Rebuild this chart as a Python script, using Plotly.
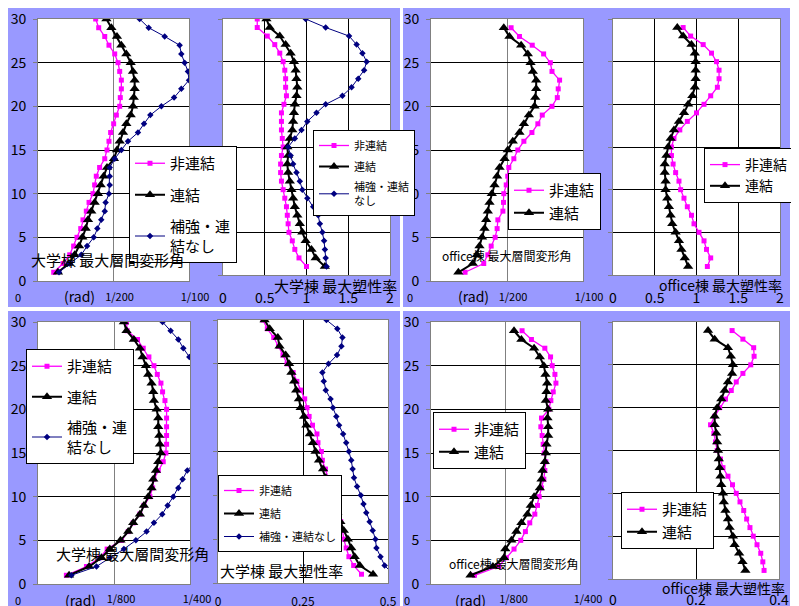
import plotly.graph_objects as go

W, H = 799, 606
OFF = 8  # page body margin: figure starts 8px right/down of the window corner

# ---------------- data ----------------
floors_univ = list(range(30, 0, -1))     # 30 ... 1
floors_office = list(range(29, 0, -1))   # 29 ... 1

# top row, drift angle (x 1/1000 rad)
u_drift_top_non = [3.82, 4.02, 4.42, 4.70, 5.08, 5.30, 5.41, 5.52, 5.52, 5.45, 5.41, 5.19, 5.01, 4.81, 4.70,
                   4.57, 4.42, 4.08, 3.86, 3.75, 3.64, 3.38, 3.20, 2.98, 2.83, 2.58, 2.36, 2.10, 1.66, 1.04]
u_drift_top_link = [4.53, 4.86, 5.23, 5.52, 5.85, 6.14, 6.29, 6.40, 6.40, 6.34, 6.29, 6.14, 5.85, 5.63, 5.41,
                    5.23, 5.03, 4.57, 4.35, 4.15, 3.97, 3.75, 3.53, 3.31, 3.16, 2.94, 2.72, 2.43, 2.05, 1.32]
u_drift_top_rein = [6.73, 7.33, 8.39, 9.38, 9.49, 9.71, 9.93, 10.0, 9.49, 9.01, 8.17, 7.44, 7.02, 6.62, 5.96,
                    5.52, 5.08, 4.75, 4.75, 4.75, 4.70, 4.48, 4.42, 4.19, 3.93, 3.69, 3.25, 2.87, 2.10, 1.39]
# top row, ductility factor
u_pl_top_non = [0.41, 0.41, 0.53, 0.62, 0.68, 0.72, 0.74, 0.75, 0.75, 0.76, 0.73, 0.70, 0.70, 0.70, 0.71,
                0.72, 0.70, 0.69, 0.69, 0.70, 0.72, 0.74, 0.76, 0.77, 0.78, 0.79, 0.83, 0.86, 0.91, 1.00]
u_pl_top_link = [0.52, 0.56, 0.68, 0.75, 0.81, 0.85, 0.87, 0.88, 0.89, 0.88, 0.86, 0.85, 0.84, 0.83, 0.80,
                 0.77, 0.78, 0.77, 0.78, 0.80, 0.82, 0.84, 0.86, 0.89, 0.92, 0.95, 0.99, 1.06, 1.11, 1.22]
u_pl_top_rein = [0.99, 1.23, 1.51, 1.60, 1.67, 1.72, 1.69, 1.62, 1.54, 1.43, 1.23, 1.12, 1.01, 0.94, 0.86,
                 0.78, 0.81, 0.84, 0.88, 0.92, 0.95, 1.01, 1.08, 1.14, 1.16, 1.19, 1.21, 1.22, 1.23, 1.24]
o_drift_top_non = [5.27, 5.82, 6.66, 7.41, 7.85, 7.96, 8.46, 8.37, 8.31, 7.96, 7.32, 7.03, 6.64, 6.11, 5.71,
                   5.45, 5.12, 5.05, 4.95, 4.79, 4.77, 4.73, 4.40, 4.35, 4.22, 3.96, 3.74, 3.47, 2.24]
o_drift_top_link = [4.79, 5.16, 5.93, 6.37, 6.55, 6.70, 6.92, 6.92, 6.86, 6.81, 6.44, 6.11, 5.82, 5.38, 5.05,
                    4.84, 4.51, 4.35, 4.18, 4.00, 3.85, 3.74, 3.63, 3.52, 3.36, 3.19, 3.01, 2.75, 1.80]
o_pl_top_non = [0.84, 0.93, 1.08, 1.18, 1.24, 1.27, 1.27, 1.25, 1.17, 1.09, 1.00, 0.89, 0.80, 0.73, 0.70,
                0.70, 0.72, 0.75, 0.79, 0.81, 0.85, 0.89, 0.94, 0.97, 1.03, 1.09, 1.12, 1.17, 1.13]
o_pl_top_link = [0.77, 0.84, 0.94, 0.98, 0.99, 0.99, 0.99, 0.98, 0.95, 0.90, 0.85, 0.79, 0.73, 0.69, 0.66,
                 0.64, 0.62, 0.62, 0.63, 0.63, 0.65, 0.67, 0.69, 0.71, 0.75, 0.79, 0.82, 0.86, 0.90]

# bottom row
u_drift_bot_non = [1.456, 1.467, 1.637, 1.731, 1.824, 1.907, 1.962, 2.022, 2.049, 2.088, 2.115, 2.115, 2.115,
                   2.115, 2.115, 2.104, 2.060, 1.978, 1.907, 1.885, 1.841, 1.742, 1.676, 1.566, 1.484, 1.374,
                   1.137, 1.016, 0.797, 0.467]
u_drift_bot_link = [1.412, 1.456, 1.577, 1.676, 1.720, 1.775, 1.813, 1.868, 1.896, 1.907, 1.951, 1.978, 1.978,
                    1.995, 2.005, 2.022, 1.978, 1.940, 1.896, 1.868, 1.813, 1.742, 1.676, 1.566, 1.484, 1.357,
                    1.181, 1.044, 0.841, 0.511]
u_drift_bot_rein = [2.049, 2.181, 2.308, 2.390, 2.489, 2.56, 2.62, 2.68, 2.73, 2.77, 2.80, 2.81, 2.80, 2.77,
                    2.72, 2.66, 2.59, 2.456, 2.379, 2.308, 2.225, 2.132, 2.044, 1.907, 1.786, 1.610, 1.412,
                    1.181, 0.962, 0.549]
u_pl_bot_non = [0.132, 0.145, 0.164, 0.178, 0.191, 0.203, 0.221, 0.232, 0.243, 0.255, 0.262, 0.268, 0.278,
                0.291, 0.294, 0.304, 0.307, 0.316, 0.324, 0.330, 0.336, 0.341, 0.350, 0.361, 0.366, 0.370,
                0.377, 0.385, 0.399, 0.422]
u_pl_bot_link = [0.137, 0.152, 0.176, 0.181, 0.199, 0.209, 0.216, 0.224, 0.230, 0.238, 0.243, 0.253, 0.260,
                 0.270, 0.279, 0.287, 0.297, 0.309, 0.317, 0.324, 0.331, 0.340, 0.351, 0.360, 0.370, 0.382,
                 0.392, 0.402, 0.417, 0.456]
u_pl_bot_rein = [0.319, 0.351, 0.366, 0.363, 0.350, 0.325, 0.307, 0.311, 0.317, 0.331, 0.338, 0.348, 0.356,
                 0.368, 0.377, 0.385, 0.392, 0.396, 0.400, 0.409, 0.420, 0.428, 0.436, 0.446, 0.455, 0.463,
                 0.466, 0.478, 0.490, 0.515]
o_drift_bot_non = [1.528, 1.685, 1.910, 2.006, 2.034, 2.079, 2.096, 2.051, 2.011, 1.978, 1.854, 1.843, 1.865,
                   1.882, 1.899, 1.927, 1.910, 1.893, 1.854, 1.815, 1.787, 1.742, 1.657, 1.584, 1.506, 1.393,
                   1.264, 1.135, 0.730]
o_drift_bot_link = [1.393, 1.517, 1.730, 1.826, 1.893, 1.921, 1.949, 1.938, 1.927, 1.966, 1.955, 1.966, 1.966,
                    1.938, 1.927, 1.910, 1.871, 1.854, 1.826, 1.730, 1.674, 1.618, 1.517, 1.433, 1.348, 1.247,
                    1.225, 1.039, 0.663]
o_pl_bot_non = [0.287, 0.313, 0.339, 0.340, 0.332, 0.313, 0.297, 0.285, 0.271, 0.257, 0.245, 0.235, 0.243,
                0.247, 0.251, 0.259, 0.265, 0.277, 0.288, 0.297, 0.306, 0.315, 0.322, 0.330, 0.338, 0.347,
                0.356, 0.361, 0.364]
o_pl_bot_link = [0.229, 0.245, 0.277, 0.284, 0.289, 0.287, 0.277, 0.269, 0.261, 0.251, 0.245, 0.245, 0.249,
                 0.251, 0.253, 0.255, 0.257, 0.259, 0.261, 0.265, 0.267, 0.271, 0.277, 0.281, 0.289, 0.293,
                 0.304, 0.312, 0.319]

floor_ticks = [0, 5, 10, 15, 20, 25, 30]
drift_top_ticks = [5, 10]
drift_top_labels = ["1/200", "1/100"]
drift_bot_ticks = [1.25, 2.5]
drift_bot_labels = ["1/800", "1/400"]
pl_top_ticks = [0, 0.5, 1, 1.5, 2]
pl_top_labels = ["0", "0.5", "1", "1.5", "2"]
pl_bot_u_ticks = [0, 0.25, 0.5]
pl_bot_u_labels = ["0", "0.25", "0.5"]
pl_bot_o_ticks = [0, 0.2, 0.4]
pl_bot_o_labels = ["0", "0.2", "0.4"]

NON, LINK = "非連結", "連結"

# ---------------- layout helpers ----------------
FONT = "Noto Sans CJK JP, sans-serif"
LAV = "#9999FF"


def fx(p):
    return (p - OFF) / W


def fy(p):
    return 1 - (p - OFF) / H


STY = {
    "non": dict(color="#FF00FF", symbol="square", size=5, width=1.3),
    "link": dict(color="#000000", symbol="triangle-up", size=9, width=2),
    "rein": dict(color="#000080", symbol="diamond", size=5, width=1),
}

panels = [
    dict(rect=(38, 19, 189, 281), xr=[0, 10], tv=drift_top_ticks, tt=drift_top_labels, xfs=11, shift=6,
         stand=6, xgrid="#808080", showy=True,
         series=[("non", NON, u_drift_top_non, floors_univ), ("link", LINK, u_drift_top_link, floors_univ),
                 ("rein", "補強・連<br>結なし", u_drift_top_rein, floors_univ)],
         leg=(129, 146, 15, 9)),
    dict(rect=(223, 19, 390, 275), xr=[0, 2], tv=pl_top_ticks, tt=pl_top_labels, xfs=14, shift=0,
         stand=10, xgrid="#000000", showy=False,
         series=[("non", NON, u_pl_top_non, floors_univ), ("link", LINK, u_pl_top_link, floors_univ),
                 ("rein", "補強・連結<br>なし", u_pl_top_rein, floors_univ)],
         leg=(313, 130, 11, 2)),
    dict(rect=(431, 19, 583, 281), xr=[0, 10], tv=drift_top_ticks, tt=drift_top_labels, xfs=11, shift=6,
         stand=6, xgrid="#808080", showy=True,
         series=[("non", NON, o_drift_top_non, floors_office), ("link", LINK, o_drift_top_link, floors_office)],
         leg=(508, 173, 15, 0)),
    dict(rect=(613, 19, 780, 275), xr=[0, 2], tv=pl_top_ticks, tt=pl_top_labels, xfs=14, shift=0,
         stand=10, xgrid="#000000", showy=False,
         series=[("non", NON, o_pl_top_non, floors_office), ("link", LINK, o_pl_top_link, floors_office)],
         leg=(704, 148, 14, 0)),
    dict(rect=(38, 322, 190, 584), xr=[0, 2.5], tv=drift_bot_ticks, tt=drift_bot_labels, xfs=11, shift=7,
         stand=5, xgrid="#808080", showy=True,
         series=[("non", NON, u_drift_bot_non, floors_univ), ("link", LINK, u_drift_bot_link, floors_univ),
                 ("rein", "補強・連<br>結なし", u_drift_bot_rein, floors_univ)],
         leg=(26, 349, 15, 8)),
    dict(rect=(218, 320, 388, 583), xr=[0, 0.5], tv=pl_bot_u_ticks, tt=pl_bot_u_labels, xfs=12, shift=0,
         stand=8, xgrid="#000000", showy=False,
         series=[("non", NON, u_pl_bot_non, floors_univ), ("link", LINK, u_pl_bot_link, floors_univ),
                 ("rein", "補強・連結なし", u_pl_bot_rein, floors_univ)],
         leg=(218, 475, 11, 4)),
    dict(rect=(431, 322, 580, 584), xr=[0, 2.5], tv=drift_bot_ticks, tt=drift_bot_labels, xfs=11, shift=8,
         stand=5, xgrid="#808080", showy=True,
         series=[("non", NON, o_drift_bot_non, floors_office), ("link", LINK, o_drift_bot_link, floors_office)],
         leg=(433, 412, 15, 0)),
    dict(rect=(613, 322, 779, 579), xr=[0, 0.4], tv=pl_bot_o_ticks, tt=pl_bot_o_labels, xfs=14, shift=0,
         stand=8, xgrid="#000000", showy=False,
         series=[("non", NON, o_pl_bot_non, floors_office), ("link", LINK, o_pl_bot_link, floors_office)],
         leg=(621, 492, 15, 0)),
]

fig = go.Figure()
layout = dict(width=W, height=H, autosize=False, margin=dict(l=0, r=0, t=0, b=0, autoexpand=False),
              paper_bgcolor="white", plot_bgcolor="rgba(0,0,0,0)",
              font=dict(family=FONT, color="black"), showlegend=True)

shapes = []
for (x0, y0, x1, y1) in [(8, 7, 400, 307), (403, 7, 790, 307), (8, 311, 400, 606), (403, 311, 790, 606)]:
    shapes.append(dict(type="rect", xref="paper", yref="paper", x0=fx(x0), x1=fx(x1), y0=fy(y1), y1=fy(y0),
                       fillcolor=LAV, line=dict(width=0), layer="below"))

for i, p in enumerate(panels, start=1):
    s = "" if i == 1 else str(i)
    l, t, r, b = p["rect"]
    shapes.append(dict(type="rect", xref="paper", yref="paper", x0=fx(l), x1=fx(r), y0=fy(b), y1=fy(t),
                       fillcolor="white", line=dict(width=0), layer="below"))
    layout["xaxis" + s] = dict(domain=[fx(l), fx(r)], range=p["xr"], anchor="y" + s, tickmode="array",
                               tickvals=p["tv"], ticktext=p["tt"], showgrid=True, gridcolor=p["xgrid"],
                               gridwidth=1, zeroline=False, showline=True, mirror=True, linecolor="#808080",
                               linewidth=1, ticks="", tickfont=dict(size=p["xfs"]), automargin=False,
                               ticklabeloverflow="allow",
                               ticklabelshift=p["shift"], ticklabelstandoff=p["stand"], fixedrange=True)
    layout["yaxis" + s] = dict(domain=[fy(b), fy(t)], range=[0, 30], anchor="x" + s, tickmode="array",
                               tickvals=floor_ticks, showgrid=True, gridcolor="#000000", gridwidth=1,
                               zeroline=False, showline=True, mirror=True, linecolor="#808080", linewidth=1,
                               ticks="outside", ticklen=4, tickcolor="#808080", automargin=False,
                               ticklabeloverflow="allow",
                               showticklabels=p["showy"], tickfont=dict(size=14), ticklabelstandoff=4,
                               fixedrange=True)
    lx, ly, lfs, gap = p["leg"]
    layout["legend" + s] = dict(x=fx(lx), y=fy(ly), xanchor="left", yanchor="top", bgcolor="white",
                                bordercolor="black", borderwidth=1, font=dict(size=lfs, family=FONT),
                                tracegroupgap=gap, traceorder="grouped", itemwidth=30)
    for key, name, xs, fl in p["series"]:
        st = STY[key]
        fig.add_trace(go.Scatter(
            x=xs, y=fl, mode="lines+markers", name=name, xaxis="x" + s, yaxis="y" + s,
            legend="legend" + s, legendgroup=f"p{i}{key}",
            line=dict(color=st["color"], width=st["width"]),
            marker=dict(color=st["color"], symbol=st["symbol"], size=st["size"]),
            hoverinfo="skip"))

annots = [
    ("大学棟 最大層間変形角", 107, 260, 15),
    ("0", 18, 297, 11), ("(rad)", 79, 296, 14),
    ("大学棟 最大塑性率", 335, 285, 15),
    ("office棟 最大層間変形角", 507, 255, 12),
    ("0", 410, 297, 11), ("(rad)", 473, 296, 14),
    ("office棟 最大塑性率", 720, 285, 14),
    ("大学棟 最大層間変形角", 132, 553, 15),
    ("0", 18, 600, 11), ("(rad)", 80, 600, 14),
    ("大学棟 最大塑性率", 281, 570, 15),
    ("office棟 最大層間変形角", 513, 563, 12),
    ("0", 407, 600, 11), ("(rad)", 470, 600, 14),
    ("office棟 最大塑性率", 723, 588, 14),
]
layout["annotations"] = [dict(text=tx, x=fx(cx), y=fy(cy), xref="paper", yref="paper", showarrow=False,
                              xanchor="center", yanchor="middle", font=dict(size=fs, family=FONT))
                         for tx, cx, cy, fs in annots]
layout["shapes"] = shapes
fig.update_layout(**layout)
fig.write_html("out.html")
